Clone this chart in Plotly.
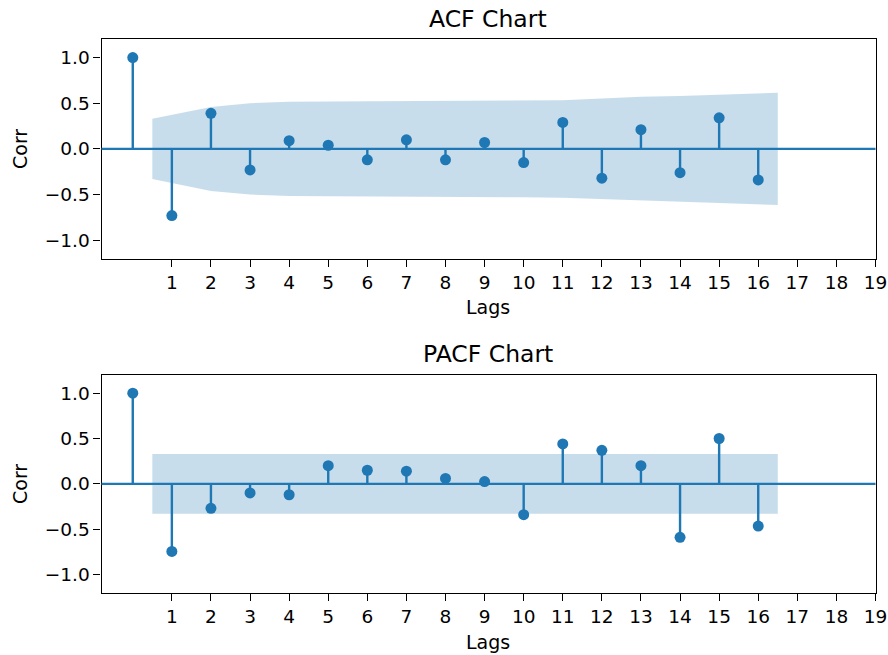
import plotly.graph_objects as go

lags = list(range(0, 17))
acf_vals = [1.0, -0.73, 0.39, -0.23, 0.09, 0.04, -0.12, 0.10, -0.12, 0.07,
            -0.15, 0.29, -0.32, 0.21, -0.26, 0.34, -0.34]
pacf_vals = [1.0, -0.745, -0.27, -0.10, -0.12, 0.20, 0.15, 0.14, 0.06, 0.025,
             -0.34, 0.44, 0.37, 0.20, -0.59, 0.50, -0.465]
band_x = [0.5, 2, 3, 4, 5, 6, 7, 8, 9, 10, 11, 12, 13, 14, 15, 16.5]
acf_band = [0.33, 0.46, 0.50, 0.515, 0.52, 0.522, 0.524, 0.526, 0.528, 0.53,
            0.534, 0.551, 0.57, 0.58, 0.592, 0.614]
pacf_band = [0.33] * 16
xtick_vals = list(range(1, 20))

BLUE = "#1f77b4"
BAND = "rgba(31,119,180,0.25)"
FONT = "DejaVu Sans"

fig = go.Figure()


def add_panel(vals, band, xa, ya):
    # confidence band
    bx = band_x + band_x[::-1]
    by = band + [-b for b in band[::-1]]
    fig.add_trace(go.Scatter(x=bx, y=by, fill="toself", fillcolor=BAND,
                             line=dict(width=0), mode="lines", hoverinfo="skip",
                             showlegend=False, xaxis=xa, yaxis=ya))
    # stems
    sx, sy = [], []
    for l, v in zip(lags, vals):
        sx += [l, l, None]
        sy += [0, v, None]
    fig.add_trace(go.Scatter(x=sx, y=sy, mode="lines",
                             line=dict(color=BLUE, width=2.4),
                             showlegend=False, xaxis=xa, yaxis=ya))
    # markers
    fig.add_trace(go.Scatter(x=lags, y=vals, mode="markers",
                             marker=dict(color=BLUE, size=11),
                             showlegend=False, xaxis=xa, yaxis=ya))


add_panel(acf_vals, acf_band, "x", "y")
add_panel(pacf_vals, pacf_band, "x2", "y2")

axis_common = dict(showline=True, mirror=True, linecolor="black", linewidth=1.2,
                   ticks="outside", ticklen=7, tickwidth=1.2, tickcolor="black",
                   showgrid=False, zeroline=False, automargin=False,
                   tickfont=dict(family=FONT, size=18.5, color="black"))

xdom = [101.5 / 888, 875.5 / 888]
fig.update_layout(
    width=888, height=655,
    margin=dict(l=0, r=0, t=0, b=0),
    paper_bgcolor="white", plot_bgcolor="white",
    font=dict(family=FONT, color="black"),
    xaxis=dict(domain=xdom, range=[-0.8, 19], tickvals=xtick_vals,
               anchor="y", **axis_common),
    yaxis=dict(domain=[1 - 258.5 / 655, 1 - 39.3 / 655], range=[-1.2, 1.2],
               tickvals=[-1.0, -0.5, 0.0, 0.5, 1.0], tickformat=".1f",
               anchor="x", **axis_common),
    xaxis2=dict(domain=xdom, range=[-0.8, 19], tickvals=xtick_vals,
                anchor="y2", **axis_common),
    yaxis2=dict(domain=[1 - 592.7 / 655, 1 - 375 / 655], range=[-1.2, 1.2],
                tickvals=[-1.0, -0.5, 0.0, 0.5, 1.0], tickformat=".1f",
                anchor="x2", **axis_common),
)

for yref in ["y", "y2"]:
    xr = "x domain" if yref == "y" else "x2 domain"
    fig.add_shape(type="line", xref=xr, yref=yref, x0=0, x1=1, y0=0, y1=0,
                  line=dict(color=BLUE, width=2.2), layer="above")

xc = (101.5 + 875.5) / 2 / 888
ann = [
    ("ACF Chart", xc, 1 - 19 / 655, 23.5, 0),
    ("PACF Chart", xc, 1 - 354 / 655, 23.5, 0),
    ("Lags", xc, 1 - 307 / 655, 19, 0),
    ("Lags", xc, 1 - 642 / 655, 19, 0),
    ("Corr", 20 / 888, 1 - 149 / 655, 19, -90),
    ("Corr", 20 / 888, 1 - 484 / 655, 19, -90),
]
for text, x, y, size, ang in ann:
    fig.add_annotation(text=text, x=x, y=y, xref="paper", yref="paper",
                       xanchor="center", yanchor="middle", showarrow=False,
                       textangle=ang, font=dict(family=FONT, size=size, color="black"))

fig.write_html("out.html",
               config={"displayModeBar": False},
               post_script="document.body.style.margin='0px';"
                           "document.body.style.overflow='hidden';")
